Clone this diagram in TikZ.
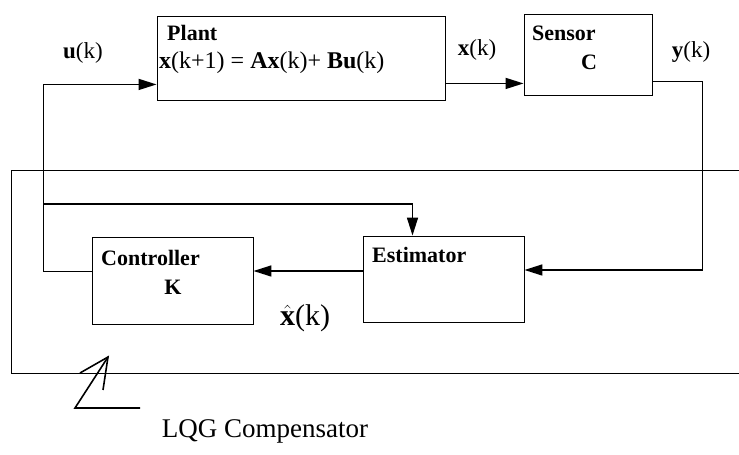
\documentclass[tikz,border=0pt]{standalone}
\usepackage{fontspec}
\setmainfont{Liberation Serif}
\usetikzlibrary{arrows.meta,calc}

\begin{document}
\begin{tikzpicture}[
  x=1pt, y=1pt,
  blk/.style={draw, line width=0.9pt, inner sep=0pt},
  sig/.style={line width=1.6pt, -{Triangle[length=18pt,width=11pt]}},
  wire/.style={line width=1.6pt},
  frame/.style={line width=0.7pt},
  ttl/.style={inner sep=0pt, font=\fontsize{22}{26}\selectfont\bfseries},
  lbl/.style={inner sep=0pt, font=\fontsize{23}{27}\selectfont},
  big/.style={inner sep=0pt, font=\fontsize{27}{32}\selectfont}
]
\useasboundingbox (0,0) rectangle (739,455);

% blocks
\node[blk, minimum width=288pt, minimum height=84pt] (plant)      at (301,397)   {};
\node[blk, minimum width=128pt, minimum height=81pt] (sensor)     at (588,400.5) {};
\node[blk, minimum width=161pt, minimum height=86pt] (estimator)  at (443.5,176) {};
\node[blk, minimum width=161pt, minimum height=87pt] (controller) at (172.5,174.5) {};

% block texts
\node[ttl, anchor=west] at (167,422) {Plant};
\node[lbl, font=\fontsize{24}{28}\selectfont, anchor=west] at (159,392)
  {\textbf{x}(k+1) = \textbf{Ax}(k)+ \textbf{Bu}(k)};
\node[ttl, anchor=west] at (532,422) {Sensor};
\node[ttl] at (589,393) {C};
\node[ttl, anchor=west] at (101,197) {Controller};
\node[ttl] at (173,168) {K};
\node[ttl, anchor=west] at (372,200) {Estimator};

% signal labels
\node[lbl] (uk) at (83,402)  {\textbf{u}(k)};
\node[lbl] (xk) at (477,405) {\textbf{x}(k)};
\node[lbl] (yk) at (691,403) {\textbf{y}(k)};
\node[big, font=\fontsize{30}{36}\selectfont, anchor=base] (xhat) at (305,129) {$\hat{\textbf{x}}$(k)};

% signals
\draw[sig] ([yshift=17pt]plant.south east) coordinate (xout) -- (xout -| sensor.west);
\draw[sig] ([yshift=14pt]sensor.south east) -- ++(50,0) |- ([yshift=9pt]estimator.east);
\draw[sig] ([yshift=8pt]estimator.west) coordinate (est) -- (est -| controller.east);
\draw[sig] ([yshift=9pt]controller.west) -- ++(-48,0) |- ([yshift=16pt]plant.south west);
\coordinate (tap) at (44,251);
\draw[sig] (tap) -| ([xshift=-31pt]estimator.north);

% compensator frame
\draw[frame] (739,285) -- (11,285) -- (11,82) -- (739,82);

% hand drawn pointer
\coordinate (tip) at (108,98);
\draw[wire, line join=miter] (80,82) -- (tip) -- (103,65);
\draw[wire, line join=miter] (tip) -- (75,47) -- (140,47);
\node[big, anchor=base] (lqg) at (265,17) {LQG Compensator};
\end{tikzpicture}
\end{document}
